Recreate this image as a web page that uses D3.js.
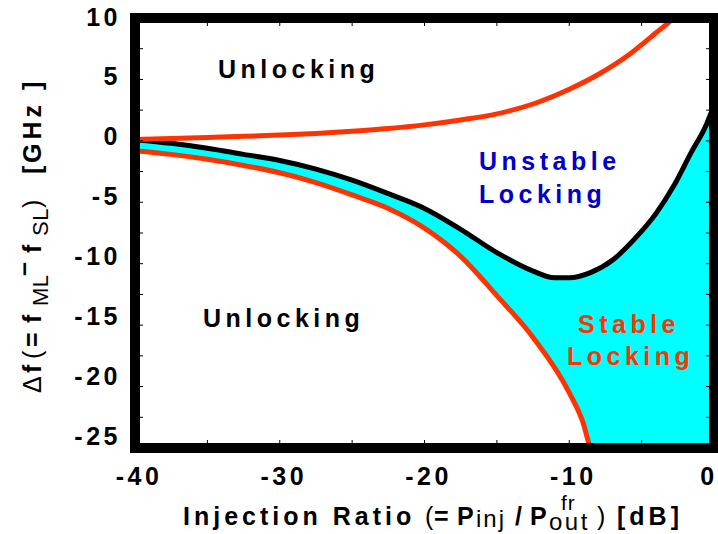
<!DOCTYPE html>
<html>
<head>
<meta charset="utf-8">
<script src="https://cdn.jsdelivr.net/npm/d3@7/dist/d3.min.js"></script>
<style>
  html, body { margin: 0; padding: 0; background: #fff; }
  svg { display: block; }
  text { font-family: "Liberation Sans", Arial, sans-serif; }
</style>
</head>
<body>
<svg id="chart" width="718" height="534"></svg>
<script>
// Injection ratio [dB] and detuning [GHz] boundaries of the locking map
const upperX = [-40, -37.5, -35, -32.5, -30, -27.5, -25, -22.5, -20, -17.5, -15, -12.5, -10, -8, -6, -4, -2.8, -2.4];
const upperY = [0.12, 0.2, 0.28, 0.37, 0.47, 0.6, 0.78, 1.0, 1.3, 1.7, 2.2, 3.0, 4.2, 5.4, 6.9, 8.8, 10.0, 10.5];

const lowerX = [-40, -37.5, -35, -32.5, -30, -27.5, -25, -22.5, -20, -17.5, -15, -12.5, -10, -9, -8.6, -8.3];
const lowerY = [-0.8, -1.1, -1.5, -2.0, -2.6, -3.4, -4.4, -5.5, -7.1, -9.4, -12.6, -16.0, -20.5, -23.1, -24.8, -25.6];

const stabX = [-40, -37.5, -35, -32.5, -30, -27.5, -25, -22.5, -20, -17.5, -15, -12.5, -11, -10, -8.5, -7, -5.5, -4, -2.8, -1.6, -0.5, 0];
const stabY = [0.1, -0.2, -0.6, -1.1, -1.6, -2.3, -3.2, -4.3, -5.5, -7.2, -9.1, -10.6, -11.15, -11.15, -10.7, -9.7, -8.0, -5.9, -3.7, -1.0, 1.4, 2.9];

const xTicks = [-40, -30, -20, -10, 0];
const yTicks = [10, 5, 0, -5, -10, -15, -20, -25];
const xMinor = [-40, -35, -30, -25, -20, -15, -10, -5, 0];
const yMinor = [10, 7.5, 5, 2.5, 0, -2.5, -5, -7.5, -10, -12.5, -15, -17.5, -20, -22.5, -25];

const svg = d3.select("#chart");

const x = d3.scaleLinear().domain([-40, 0]).range([135, 714]);
const y = d3.scaleLinear().domain([-25, 10]).range([448, 18]);
// tick labels sit on a slightly tighter vertical spread than the frame
const yLab = d3.scaleLinear().domain([-25, 10]).range([436, 16.5]);

const RED = "#ff3300";

const toPts = (xs, ys) => xs.map((v, i) => [v, ys[i]]);
const upper = toPts(upperX, upperY);
const lower = toPts(lowerX, lowerY);
const stab = toPts(stabX, stabY);

svg.append("clipPath").attr("id", "plot")
  .append("rect")
  .attr("x", x(-40)).attr("y", y(10))
  .attr("width", x(0) - x(-40)).attr("height", y(-25) - y(10));

const g = svg.append("g").attr("clip-path", "url(#plot)");

const curve = d3.curveMonotoneX;
const line = d3.line().x(d => x(d[0])).y(d => y(d[1])).curve(curve);
const areaBelow = d3.area().x(d => x(d[0])).y0(y(-27)).y1(d => y(d[1])).curve(curve);

// stable locking region: below the stability boundary, above the lower locking edge
g.append("path").attr("d", areaBelow(stab)).attr("fill", "#00ffff");
g.append("path").attr("d", areaBelow(lower)).attr("fill", "#ffffff");

g.append("path").attr("d", line(stab))
  .attr("fill", "none").attr("stroke", "#000").attr("stroke-width", 5)
  .attr("stroke-linejoin", "round");
g.append("path").attr("d", line(upper))
  .attr("fill", "none").attr("stroke", RED).attr("stroke-width", 5);
g.append("path").attr("d", line(lower))
  .attr("fill", "none").attr("stroke", RED).attr("stroke-width", 5);

// region labels
const lab = (txt, tx, ty, color) => svg.append("text")
  .attr("x", tx).attr("y", ty).attr("fill", color)
  .attr("font-size", 25).attr("font-weight", "bold")
  .attr("letter-spacing", 4.5).text(txt);
lab("Unlocking", 218, 78, "#000");
lab("Unlocking", 203, 327, "#000");
lab("Unstable", 479, 170, "#0000c8");
lab("Locking", 479, 203, "#0000c8");
lab("Stable", 578, 333, RED);
lab("Locking", 567, 365, RED);

// minor ticks pointing into the frame
const tk = svg.append("g").attr("stroke", "#000").attr("stroke-width", 1);
xMinor.forEach(v => {
  tk.append("line").attr("x1", x(v)).attr("x2", x(v)).attr("y1", y(10)).attr("y2", y(10) + 8);
  tk.append("line").attr("x1", x(v)).attr("x2", x(v)).attr("y1", y(-25)).attr("y2", y(-25) - 8);
});
yMinor.forEach(v => {
  tk.append("line").attr("y1", y(v)).attr("y2", y(v)).attr("x1", x(-40)).attr("x2", x(-40) + 8);
  tk.append("line").attr("y1", y(v)).attr("y2", y(v)).attr("x1", x(0)).attr("x2", x(0) - 8);
});

// frame
svg.append("rect")
  .attr("x", x(-40)).attr("y", y(10))
  .attr("width", x(0) - x(-40)).attr("height", y(-25) - y(10))
  .attr("fill", "none").attr("stroke", "#000").attr("stroke-width", 10);

// tick labels
svg.append("g").selectAll("text").data(xTicks).join("text")
  .attr("x", d => x(d) + (d === 0 ? -5 : 4)).attr("y", 485)
  .attr("text-anchor", "middle")
  .attr("font-size", 25).attr("font-weight", "bold").attr("letter-spacing", 3.5)
  .text(d => d);

svg.append("g").selectAll("text").data(yTicks).join("text")
  .attr("x", 121).attr("y", d => yLab(d))
  .attr("dy", "0.36em")
  .attr("text-anchor", "end")
  .attr("font-size", 25).attr("font-weight", "bold").attr("letter-spacing", 3.5)
  .text(d => d);

// x-axis title: Injection Ratio (= P_inj / P_out^fr) [dB]
const xt = svg.append("text").attr("y", 525).attr("font-size", 25);
const xPart = (txt, px, opt = {}) => xt.append("tspan")
  .attr("x", px)
  .attr("y", 525 + (opt.shift || 0))
  .attr("font-weight", opt.w || "bold")
  .attr("font-size", opt.size || 25)
  .attr("letter-spacing", opt.ls === undefined ? 4 : opt.ls)
  .text(txt);
xPart("Injection Ratio", 183);
xPart("(", 425, { w: "normal", ls: 0 });
xPart("=", 434);
xPart("P", 457);
xPart("inj", 476, { w: "normal", size: 24, ls: 2, shift: 2 });
xPart("/", 515);
xPart("P", 530);
xPart("out", 549, { w: "normal", size: 24, ls: 2.5, shift: 5 });
xPart("fr", 561, { w: "normal", size: 21, ls: 1, shift: -15 });
xPart(")", 597, { w: "normal", ls: 0 });
xPart("[dB]", 617);

// y-axis title: Δf (= f_ML − f_SL) [GHz]
const yt = svg.append("text")
  .attr("transform", "translate(41,393) rotate(-90)")
  .attr("font-size", 25);
const yPart = (txt, px, opt = {}) => yt.append("tspan")
  .attr("x", px)
  .attr("y", opt.shift || 0)
  .attr("font-weight", opt.w || "bold")
  .attr("font-size", opt.size || 25)
  .attr("letter-spacing", opt.ls === undefined ? 4 : opt.ls)
  .text(txt);
yPart("\u0394", 0, { w: "normal", ls: 0 });
yPart("f", 20, { ls: 0 });
yPart("(", 34, { w: "normal", ls: 0 });
yPart("=", 46, { ls: 0 });
yPart("f", 70, { ls: 0 });
yPart("ML", 87, { w: "normal", size: 22, ls: 0.5, shift: 7 });
yPart("\u2013", 117, { ls: 0, shift: -9 });
yPart("f", 140, { ls: 0 });
yPart("SL", 157, { w: "normal", size: 22, ls: 0.5, shift: 7 });
yPart(")", 185, { w: "normal", ls: 0 });
yPart("[", 219, { ls: 0 });
yPart("GHz", 230, { ls: 4 });
yPart("]", 303, { ls: 0 });
</script>
</body>
</html>
